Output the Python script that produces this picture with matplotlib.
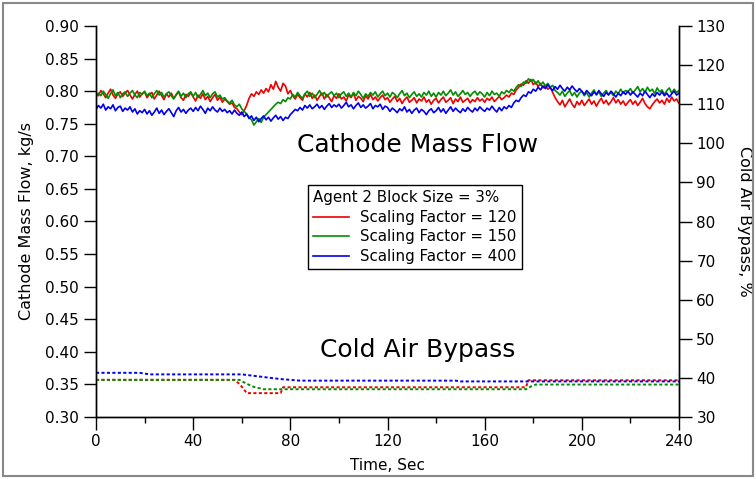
import numpy as np
import matplotlib
matplotlib.use("Agg")
import matplotlib.pyplot as plt
from matplotlib.patches import Rectangle
from matplotlib.ticker import MultipleLocator

# ------------------------------------------------------------
# Data (mass flow in g/s -> /1000 = kg/s)
# ------------------------------------------------------------
tiempo = np.arange(0, 241, 1)  # Time, Sec

flujo_120_g = [
    798, 793, 801, 796, 790, 797, 803, 794, 789, 796, 799, 792, 797, 801, 794, 788, 795, 800, 791, 796,
    799, 790, 795, 798, 788, 794, 800, 793, 787, 796, 791, 797, 789, 794, 799, 790, 786, 795, 792, 798,
    791, 785, 794, 789, 796, 787, 792, 784, 790, 795, 786, 791, 783, 788, 784, 780, 782, 775, 773, 768,
    764, 770, 778, 789, 796, 792, 799, 795, 802, 797, 804, 799, 810, 803, 815, 806, 800, 812, 808, 796,
    801, 793, 788, 795, 790, 786, 796, 791, 798, 789, 794, 786, 792, 797, 788, 795, 790, 784, 793, 789,
    796, 788, 791, 785, 794, 790, 797, 786, 792, 789, 784, 793, 788, 795, 787, 791, 785, 790, 794, 787,
    790, 783, 788, 792, 784, 789, 781, 787, 791, 783, 786, 790, 782, 788, 785, 791, 783, 787, 780, 786,
    789, 782, 787, 791, 783, 786, 790, 781, 788, 784, 791, 783, 786, 789, 782, 787, 784, 790, 785, 788,
    783, 789, 786, 791, 784, 788, 792, 787, 790, 794, 791, 797, 795, 802, 806, 811, 809, 816, 812, 818,
    810, 814, 807, 812, 805, 809, 803, 806, 798, 790, 784, 779, 786, 776, 782, 788, 780, 775, 784, 779,
    786, 778, 783, 788, 780, 785, 777, 784, 789, 781, 786, 779, 784, 790, 782, 787, 780, 785, 778, 783,
    787, 780, 785, 778, 783, 789, 781, 776, 773, 779, 784, 788, 782, 786, 780, 789, 783, 791, 785, 788,
    781,
]
flujo_150_g = [
    791, 797, 793, 800, 795, 789, 796, 802, 793, 798, 790, 796, 799, 792, 797, 801, 794, 790, 798, 795,
    800, 793, 797, 790, 796, 801, 794, 798, 791, 796, 799, 793, 788, 795, 800, 792, 797, 790, 796, 799,
    792, 798, 790, 795, 801, 793, 797, 790, 796, 799, 791, 794, 788, 790, 785, 782, 786, 779, 776, 780,
    773, 769, 765, 760, 756, 748, 753, 758, 752, 760, 764, 768, 772, 776, 780, 783, 781, 787, 784, 790,
    788, 795, 791, 798, 793, 789, 796, 800, 792, 797, 790, 795, 801, 794, 798, 791, 796, 799, 793, 797,
    790, 796, 799, 792, 797, 791, 798, 793, 800, 795, 789, 796, 792, 798, 794, 799, 791, 796, 800, 793,
    797, 791, 798, 795, 790, 796, 801, 793, 797, 790, 795, 799, 792, 796, 791, 798, 794, 800, 792, 797,
    791, 798, 794, 800, 793, 797, 802, 794, 799, 792, 796, 801, 795, 798, 792, 797, 800, 794, 799, 796,
    791, 798, 793, 800, 795, 797, 792, 799, 796, 801, 798, 803, 800, 806, 810, 807, 814, 812, 819, 815,
    818, 811, 816, 809, 814, 808, 812, 806, 809, 801, 798, 794, 800, 792, 797, 801, 793, 798, 791, 797,
    800, 793, 798, 791, 797, 802, 794, 799, 792, 797, 801, 795, 798, 793, 800, 796, 803, 797, 801, 799,
    804, 797, 802, 807, 799, 804, 798, 806, 800, 803, 796, 805, 799, 802, 795, 801, 805, 797, 803, 798,
    801,
]
flujo_400_g = [
    772, 778, 774, 780, 771, 776, 773, 779, 770, 775, 777, 769, 774, 771, 776, 768, 773, 765, 770, 767,
    772, 765, 770, 763, 768, 774, 766, 771, 764, 769, 773, 767, 761, 770, 775, 768, 772, 766, 771, 774,
    769, 775, 770, 777, 772, 766, 774, 770, 776, 771, 768, 774, 769, 772, 767, 770, 765, 771, 766, 763,
    768, 761, 765, 758, 762, 755, 760, 753, 758, 762, 756, 760, 754, 759, 763, 757, 761, 755, 760, 758,
    764, 768, 772, 770, 775, 771, 778, 774, 779, 773, 776, 780, 774, 778, 772, 777, 781, 775, 779, 776,
    780, 774, 778, 783, 776, 779, 773, 778, 782, 775, 779, 774, 777, 781, 773, 778, 776, 780, 772, 777,
    775, 769, 774, 771, 767, 773, 770, 776, 768, 772, 766, 771, 774, 767, 772, 769, 764, 770, 773, 767,
    770, 775, 768, 773, 766, 771, 776, 769, 774, 770, 767, 773, 769, 775, 771, 768, 774, 770, 776, 772,
    769, 774, 771, 777, 772, 768, 775, 770, 776, 773, 778, 775, 782, 786, 784, 790, 794, 792, 799, 797,
    803, 800, 806, 802, 808, 804, 810, 805, 801, 807, 803, 809, 804, 800, 806, 802, 808, 803, 799, 804,
    800, 795, 801, 797, 793, 799, 795, 801, 796, 792, 798, 794, 800, 796, 791, 797, 793, 799, 795, 800,
    794, 799, 795, 791, 797, 793, 800, 795, 790, 796, 792, 798, 794, 799, 793, 797, 791, 796, 800, 794,
    797,
]

# Cold air bypass (%), breakpoints
t_bypass_120 = [0, 57, 59, 61, 62, 76, 77, 177, 178, 240]
bypass_120 = [39.5, 39.5, 38.5, 37.0, 36.1, 36.1, 37.6, 37.6, 39.4, 39.4]
t_bypass_150 = [0, 59, 62, 65, 69, 177, 179, 181, 240]
bypass_150 = [39.5, 39.5, 38.5, 37.7, 37.1, 37.1, 37.8, 38.3, 38.3]
t_bypass_400 = [0, 18, 22, 60, 64, 68, 72, 76, 80, 84, 148, 150, 240]
bypass_400 = [41.3, 41.3, 40.9, 40.9, 40.6, 40.3, 40.0, 39.7, 39.5, 39.3, 39.3, 39.1, 39.1]

etiquetas = ["Scaling Factor = 120", "Scaling Factor = 150", "Scaling Factor = 400"]
colores = ["#ee0000", "#008f00", "#0000ee"]

# ------------------------------------------------------------
# Figure
# ------------------------------------------------------------
plt.rcParams['font.family'] = ['DejaVu Sans']
fig = plt.figure(figsize=(7.56, 4.79), dpi=100)
ax = fig.add_axes([96 / 756, 1 - 417 / 479, 583 / 756, 391 / 479])
ax2 = ax.twinx()

lineas = []
for datos, c, lab in zip([flujo_120_g, flujo_150_g, flujo_400_g], colores, etiquetas):
    l, = ax.plot(tiempo, np.array(datos) / 1000.0, color=c, lw=1.2, label=lab)
    lineas.append(l)

for t, v, c in zip([t_bypass_120, t_bypass_150, t_bypass_400],
                   [bypass_120, bypass_150, bypass_400], colores):
    ax2.plot(t, v, color=c, lw=1.4, linestyle=(0, (1.6, 1.2)))

ax.set_xlim(0, 240)
ax.set_ylim(0.30, 0.90)
ax2.set_ylim(30, 130)

ax.xaxis.set_major_locator(MultipleLocator(40))
ax.xaxis.set_minor_locator(MultipleLocator(20))
ax.yaxis.set_major_locator(MultipleLocator(0.05))
ax.yaxis.set_major_formatter(plt.FormatStrFormatter('%.2f'))
ax2.yaxis.set_major_locator(MultipleLocator(10))

for a in (ax, ax2):
    a.spines['top'].set_visible(False)
    for s in a.spines.values():
        s.set_linewidth(1.0)
ax.tick_params(axis='both', which='major', direction='out', length=9, width=1.0, labelsize=11)
ax.tick_params(axis='x', which='minor', direction='out', length=4.5, width=1.0)
ax2.tick_params(axis='y', which='major', direction='out', length=9, width=1.0, labelsize=11)

ax.set_xlabel('Time, Sec', fontsize=11, labelpad=6)
ax.set_ylabel('Cathode Mass Flow, kg/s', fontsize=11.5, labelpad=8)
ax2.set_ylabel('Cold Air Bypass, %', fontsize=11.5, rotation=270, labelpad=19)

ax.text(0.552, 0.696, 'Cathode Mass Flow', transform=ax.transAxes,
        ha='center', va='center', fontsize=18)
ax.text(0.551, 0.171, 'Cold Air Bypass', transform=ax.transAxes,
        ha='center', va='center', fontsize=18)

leg = ax.legend(handles=lineas, title='Agent 2 Block Size = 3%', loc='upper left',
                bbox_to_anchor=(0.364, 0.593), borderaxespad=0,
                fontsize=10.8, title_fontsize=10.8,
                fancybox=False, edgecolor='black', framealpha=1,
                handlelength=2.4, borderpad=0.35, labelspacing=0.3,
                handletextpad=0.7, alignment='left')
leg.get_frame().set_linewidth(1.0)

# thin gray border around the whole picture
fig.patches.append(Rectangle((3 / 756, 3 / 479), 750 / 756, 473 / 479,
                             transform=fig.transFigure, fill=False,
                             edgecolor='#888888', lw=1.5))

fig.savefig('out.png', dpi=100)
